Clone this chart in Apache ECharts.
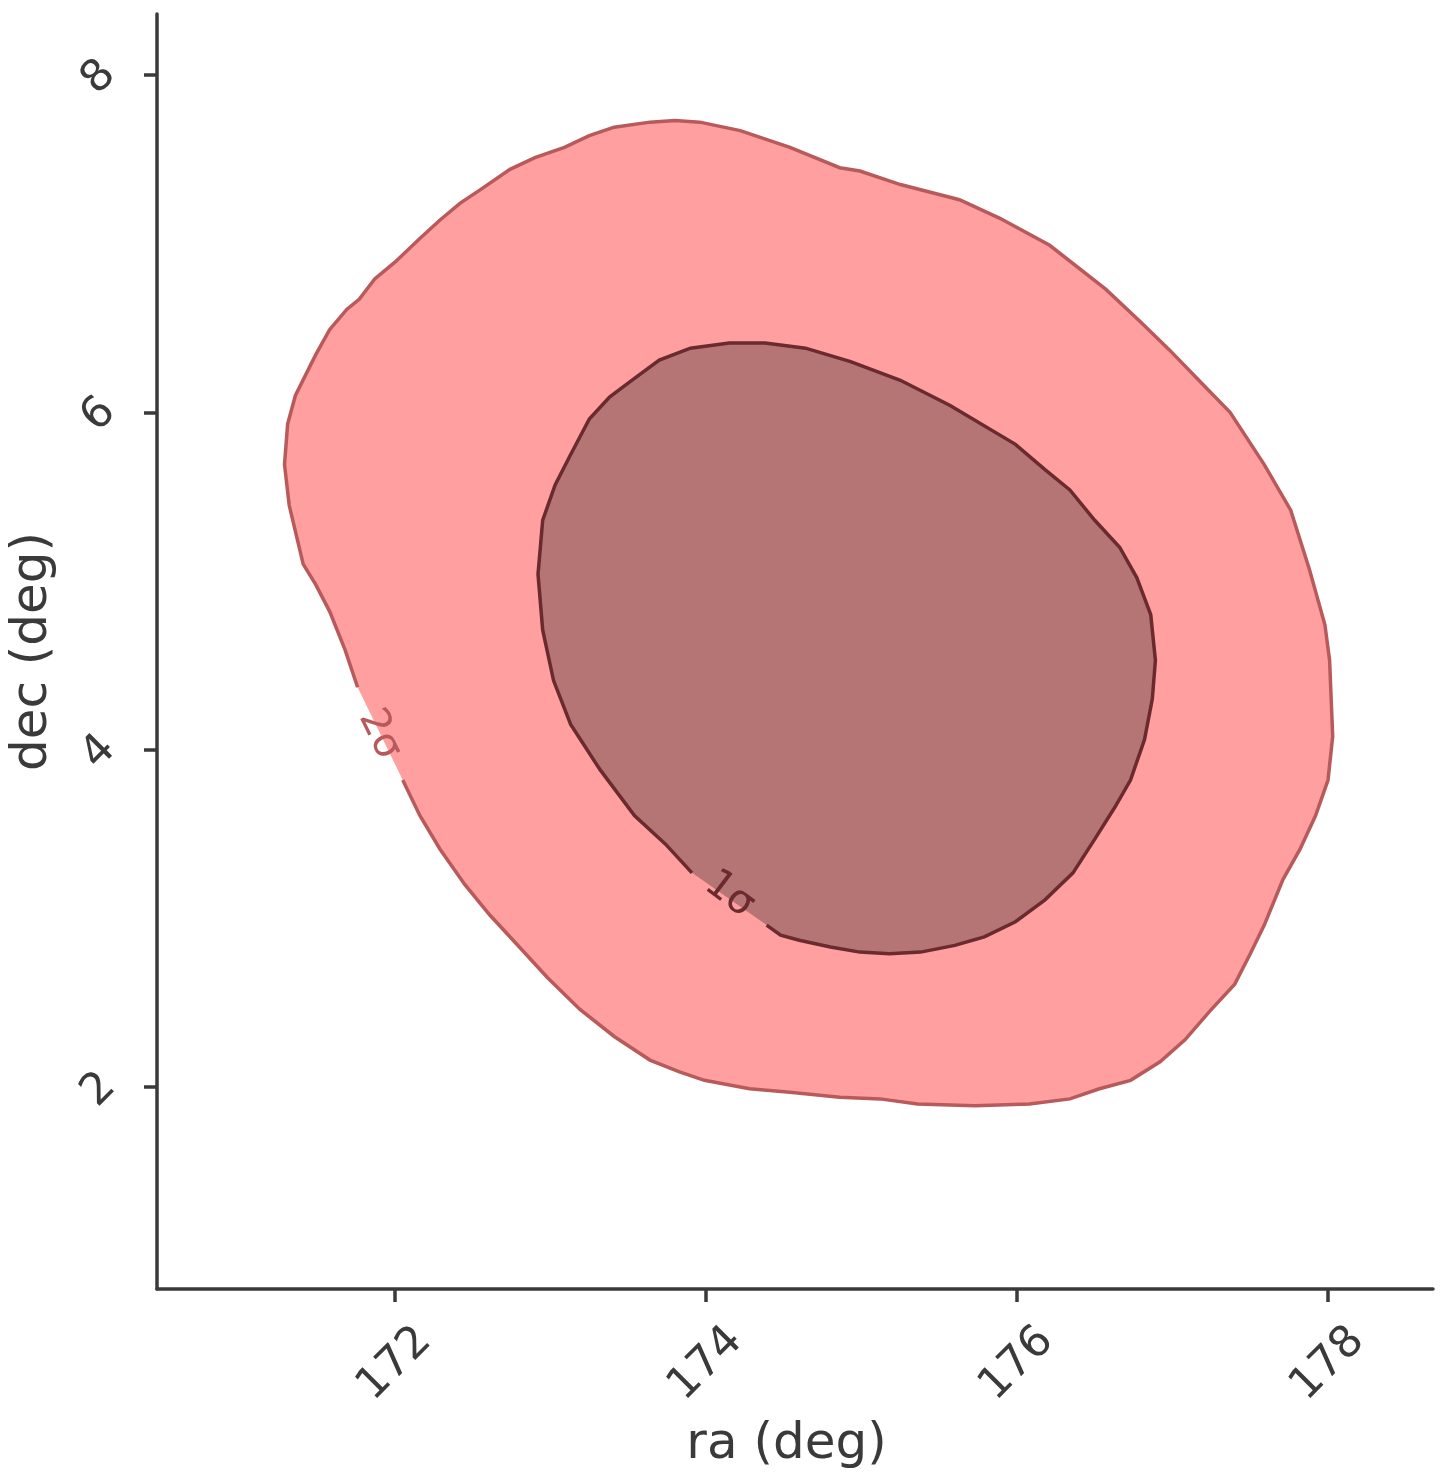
<!DOCTYPE html>
<html>
<head>
<meta charset="utf-8">
<script src="https://cdn.jsdelivr.net/npm/echarts@6/dist/echarts.min.js"></script>
<style>
html,body{margin:0;padding:0;background:#fff;}
#chart{width:1447px;height:1484px;}
</style>
</head>
<body>
<div id="chart"></div>
<script>
// 2-sigma contour (ra, dec), open at the label gap
const outer2Sigma = [
[172.05,3.82],[172.16,3.61],[172.29,3.41],[172.45,3.20],[172.61,3.02],[172.80,2.83],[172.98,2.65],
[173.19,2.46],[173.41,2.30],[173.64,2.16],[173.83,2.09],[173.99,2.04],[174.28,1.99],[174.54,1.97],
[174.86,1.94],[175.12,1.93],[175.36,1.90],[175.73,1.89],[176.08,1.90],[176.34,1.93],[176.53,1.99],
[176.73,2.04],[176.92,2.15],[177.08,2.28],[177.24,2.45],[177.40,2.61],[177.50,2.79],[177.59,2.96],
[177.71,3.23],[177.82,3.41],[177.92,3.61],[178.00,3.82],[178.03,4.08],[178.01,4.53],[177.98,4.74],
[177.88,5.07],[177.76,5.42],[177.59,5.69],[177.37,6.00],[177.18,6.18],[176.98,6.37],[176.79,6.54],
[176.57,6.73],[176.21,6.99],[175.89,7.15],[175.63,7.26],[175.25,7.35],[174.99,7.43],[174.86,7.45],
[174.54,7.57],[174.22,7.67],[173.96,7.72],[173.80,7.73],[173.64,7.72],[173.41,7.69],[173.25,7.64],
[173.09,7.57],[172.90,7.51],[172.74,7.44],[172.55,7.32],[172.42,7.24],[172.29,7.14],[172.16,7.03],
[172.00,6.89],[171.87,6.79],[171.77,6.67],[171.69,6.61],[171.58,6.49],[171.49,6.34],[171.36,6.10],
[171.31,5.93],[171.29,5.69],[171.32,5.45],[171.41,5.10],[171.49,4.98],[171.58,4.82],[171.68,4.59],
[171.76,4.37]
];
// 1-sigma contour (ra, dec), open at the label gap
const inner1Sigma = [
[174.39,2.96],[174.48,2.90],[174.60,2.87],[174.80,2.83],[174.99,2.80],[175.18,2.79],[175.38,2.80],
[175.60,2.84],[175.79,2.89],[175.99,2.98],[176.18,3.11],[176.36,3.27],[176.50,3.47],[176.63,3.66],
[176.73,3.82],[176.82,4.06],[176.87,4.30],[176.89,4.53],[176.86,4.80],[176.77,5.02],[176.66,5.20],
[176.50,5.36],[176.34,5.54],[176.18,5.66],[175.99,5.81],[175.57,6.04],[175.25,6.19],[174.93,6.30],
[174.64,6.38],[174.38,6.41],[174.15,6.41],[173.90,6.38],[173.70,6.31],[173.51,6.18],[173.38,6.09],
[173.25,5.96],[173.13,5.75],[173.03,5.57],[172.95,5.36],[172.92,5.04],[172.95,4.71],[173.02,4.41],
[173.13,4.15],[173.32,3.88],[173.54,3.61],[173.74,3.44],[173.91,3.27]
];
const contourLabels = ['2σ', '1σ'];
const labelAnchors = [[171.90, 4.09], [174.15, 3.14]];
const labelAngles = [-64, -37];
const xTicks = [172, 174, 176, 178];
const yTicks = [2, 4, 6, 8];
const xName = 'ra (deg)';
const yName = 'dec (deg)';

const FONT = 'DejaVu Sans';
const AX = '#3a3a3a';

function contourSeries(points, fill, stroke, labelIdx) {
  return {
    type: 'custom',
    coordinateSystem: 'cartesian2d',
    data: points,
    silent: true,
    clip: false,
    renderItem: function (params, api) {
      if (params.dataIndex !== 0) return null;
      const pts = points.map(p => api.coord(p));
      const lp = api.coord(labelAnchors[labelIdx]);
      return {
        type: 'group',
        children: [
          { type: 'polygon', shape: { points: pts }, style: { fill: fill, stroke: null } },
          { type: 'polyline', shape: { points: pts }, style: { fill: null, stroke: stroke, lineWidth: 3.5 } },
          { type: 'text', x: lp[0], y: lp[1], rotation: labelAngles[labelIdx] * Math.PI / 180,
            style: { text: contourLabels[labelIdx], fill: stroke, font: '40px "' + FONT + '"', align: 'center', verticalAlign: 'middle' } }
        ]
      };
    }
  };
}

const chart = echarts.init(document.getElementById('chart'), null, { renderer: 'canvas' });
chart.setOption({
  animation: false,
  backgroundColor: '#ffffff',
  textStyle: { fontFamily: FONT },
  grid: { left: 157, top: 14, right: 14, bottom: 195, containLabel: false, outerBoundsMode: 'none' },
  xAxis: {
    type: 'value', min: 170.47, max: 178.675,
    name: xName, nameLocation: 'middle', nameGap: 131,
    nameTextStyle: { fontSize: 50, color: AX, fontFamily: FONT, padding: [0, 17, 0, 0] },
    axisLine: { show: true, lineStyle: { color: AX, width: 3.5 } },
    axisTick: { show: true, length: 13, lineStyle: { color: AX, width: 3.5 }, customValues: xTicks },
    axisLabel: { show: true, customValues: xTicks, rotate: 45, align: 'center', verticalAlign: 'middle', margin: 75,
      fontSize: 44, color: AX, fontFamily: FONT },
    splitLine: { show: false }
  },
  yAxis: {
    type: 'value', min: 0.803, max: 8.361,
    name: yName, nameLocation: 'middle', nameGap: 99,
    nameTextStyle: { fontSize: 50, color: AX, fontFamily: FONT },
    axisLine: { show: true, lineStyle: { color: AX, width: 3.5 } },
    axisTick: { show: true, length: 13, lineStyle: { color: AX, width: 3.5 }, customValues: yTicks },
    axisLabel: { show: true, customValues: yTicks, rotate: 45, align: 'center', verticalAlign: 'middle', margin: 55,
      padding: [10, 8, 0, 0], fontSize: 44, color: AX, fontFamily: FONT },
    splitLine: { show: false }
  },
  series: [
    contourSeries(outer2Sigma, '#ff9f9f', '#b85a5c', 0),
    contourSeries(inner1Sigma, '#b67575', '#6a2a2e', 1)
  ]
});
</script>
</body>
</html>
